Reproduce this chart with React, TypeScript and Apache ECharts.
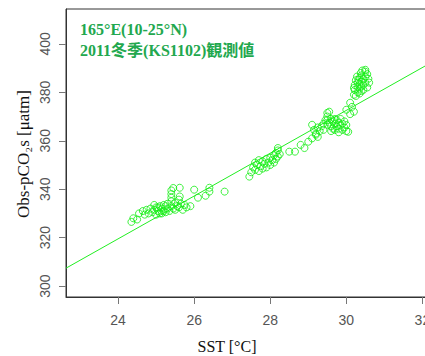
import React, { useEffect, useRef } from "react";
import * as echarts from "echarts";

const titleLines = ["165°E(10-25°N)", "2011冬季(KS1102)観測値"];
const xTicks = [24, 26, 28, 30, 32];
const yTicks = [300, 320, 340, 360, 380, 400];
const xTitle = "SST [°C]";
const yTitle = "Obs-pCO₂s [μatm]";

const clusterA: number[][] = [
  [24.35, 326.5], [24.4, 328.0], [24.5, 327.5], [24.55, 330.0], [24.65, 331.0], [24.7, 329.5],
  [24.75, 331.5], [24.8, 330.0], [24.85, 332.0], [24.9, 330.5], [24.95, 331.5], [25.0, 332.5],
  [25.0, 329.5], [25.05, 331.0], [25.1, 333.0], [25.1, 330.0], [25.15, 332.0], [25.2, 331.0],
  [25.2, 333.5], [25.25, 330.5], [25.3, 332.0], [25.3, 334.0], [25.35, 331.0], [25.4, 333.0],
  [25.4, 335.0], [25.4, 336.5], [25.4, 338.0], [25.4, 339.5], [25.45, 340.5], [25.45, 332.0],
  [25.5, 334.5], [25.5, 331.5], [25.55, 333.0], [25.6, 332.5], [25.6, 335.7], [25.62, 337.0],
  [25.62, 340.6], [25.65, 334.0], [25.7, 331.5], [25.75, 333.5], [25.8, 332.5], [25.9, 333.0],
  [26.0, 339.8], [26.1, 336.5], [26.3, 337.3], [26.4, 339.0], [26.4, 340.6], [26.8, 339.0],
  [24.95, 333.5], [25.05, 332.5], [25.25, 333.0], [25.15, 330.0]
];

const clusterB: number[][] = [
  [27.45, 345.2], [27.5, 347.0], [27.55, 349.0], [27.6, 351.0], [27.6, 348.0], [27.65, 350.0],
  [27.7, 352.0], [27.7, 347.5], [27.75, 349.5], [27.8, 351.5], [27.8, 348.5], [27.85, 350.5],
  [27.9, 352.5], [27.9, 349.0], [27.95, 351.0], [28.0, 353.0], [28.0, 350.0], [28.05, 352.0],
  [28.1, 354.0], [28.1, 351.0], [28.15, 355.0], [28.15, 352.5], [28.2, 356.0], [28.2, 353.5],
  [28.2, 357.0], [28.25, 354.5], [28.5, 355.5], [28.65, 355.5], [28.8, 358.3], [28.9, 357.0],
  [29.0, 359.6], [29.1, 361.0], [29.2, 362.5]
];

const clusterC: number[][] = [
  [29.1, 366.6], [29.15, 364.5], [29.2, 363.0], [29.25, 361.6], [29.25, 365.5], [29.3, 364.0],
  [29.35, 366.0], [29.4, 364.5], [29.4, 367.0], [29.45, 368.5], [29.5, 366.6], [29.5, 368.5],
  [29.5, 370.0], [29.5, 371.5], [29.55, 372.0], [29.55, 367.5], [29.6, 369.0], [29.6, 366.0],
  [29.6, 364.0], [29.65, 368.0], [29.65, 365.0], [29.7, 367.0], [29.7, 369.0], [29.7, 364.5],
  [29.75, 366.0], [29.75, 368.5], [29.8, 365.0], [29.8, 367.5], [29.8, 363.5], [29.85, 366.5],
  [29.85, 369.0], [29.9, 364.5], [29.9, 367.0], [29.95, 365.5], [29.95, 368.0], [30.0, 364.0],
  [30.0, 366.5], [30.05, 363.7], [30.1, 375.7], [30.15, 374.0], [30.2, 372.0], [30.0, 372.8],
  [30.1, 371.0]
];

const clusterD: number[][] = [
  [30.2, 379.0], [30.22, 381.0], [30.22, 383.0], [30.25, 385.0], [30.3, 380.0], [30.3, 382.0],
  [30.3, 384.0], [30.35, 379.5], [30.35, 381.5], [30.35, 383.5], [30.35, 386.0], [30.4, 380.5],
  [30.4, 382.5], [30.4, 384.5], [30.4, 387.0], [30.45, 381.0], [30.45, 383.0], [30.45, 385.5],
  [30.5, 388.5], [30.5, 384.0], [30.5, 386.5], [30.55, 382.0], [30.58, 385.6], [30.5, 389.3],
  [30.2, 381.8], [30.25, 378.5], [30.28, 386.5], [30.32, 385.2], [30.38, 388.0], [30.42, 389.0],
  [30.6, 384.0], [30.55, 387.5]
];

const fitLine: number[][] = [
  [22.63, 307.4],
  [32.2, 392.0]
];

const points = [...clusterA, ...clusterB, ...clusterC, ...clusterD];

export default function App() {
  const ref = useRef<HTMLDivElement>(null);
  useEffect(() => {
    if (!ref.current) return;
    const chart = echarts.init(ref.current, null, { renderer: "svg" });
    chart.setOption({
      animation: false,
      backgroundColor: "#ffffff",
      grid: {
        left: 66,
        top: 9,
        bottom: 59,
        right: 10,
        show: true,
        borderColor: "#333333",
        borderWidth: 1,
        backgroundColor: "transparent"
      },
      xAxis: {
        type: "value",
        min: 22.63,
        max: 32.2,
        axisLine: { show: true, lineStyle: { color: "#333333" } },
        axisTick: { show: true, length: 7, inside: false, customValues: xTicks, lineStyle: { color: "#777777" } },
        axisLabel: {
          customValues: xTicks,
          margin: 16,
          fontFamily: "Liberation Sans",
          fontSize: 14,
          color: "#555555"
        },
        splitLine: { show: false }
      },
      yAxis: {
        type: "value",
        min: 295.5,
        max: 414.4,
        axisLine: { show: true, lineStyle: { color: "#333333" } },
        axisTick: { show: true, length: 7, inside: false, customValues: yTicks, lineStyle: { color: "#777777" } },
        axisLabel: {
          customValues: yTicks,
          rotate: 90,
          margin: 14,
          fontFamily: "Liberation Sans",
          fontSize: 14,
          color: "#555555",
          align: "center",
          verticalAlign: "bottom"
        },
        splitLine: { show: false }
      },
      graphic: [
        {
          type: "text",
          left: 80,
          top: 19,
          style: {
            text: titleLines.join("\n"),
            fill: "#22a84e",
            font: "bold 16px 'Liberation Serif', 'Noto Sans CJK JP', serif",
            lineHeight: 21
          }
        },
        {
          type: "text",
          x: 227,
          y: 346,
          style: {
            text: xTitle,
            fill: "#111111",
            font: "16px 'Liberation Serif', serif",
            textAlign: "center",
            textVerticalAlign: "middle"
          }
        },
        {
          type: "text",
          x: 23,
          y: 154,
          rotation: Math.PI / 2,
          style: {
            text: yTitle,
            fill: "#111111",
            font: "17px 'Liberation Serif', serif",
            textAlign: "center",
            textVerticalAlign: "middle"
          }
        }
      ],
      series: [
        {
          type: "line",
          data: fitLine,
          symbol: "none",
          lineStyle: { color: "#22ee22", width: 1 },
          z: 1
        },
        {
          type: "scatter",
          data: points,
          symbol: "circle",
          symbolSize: 7,
          itemStyle: { color: "rgba(255,255,255,0)", borderColor: "#11ee11", borderWidth: 1 },
          z: 2
        }
      ]
    });
    return () => chart.dispose();
  }, []);
  return (
    <div style={{ width: 425, height: 356, position: "absolute", left: 0, top: 0, overflow: "hidden" }}>
      <div ref={ref} style={{ width: 440, height: 356 }} />
    </div>
  );
}
